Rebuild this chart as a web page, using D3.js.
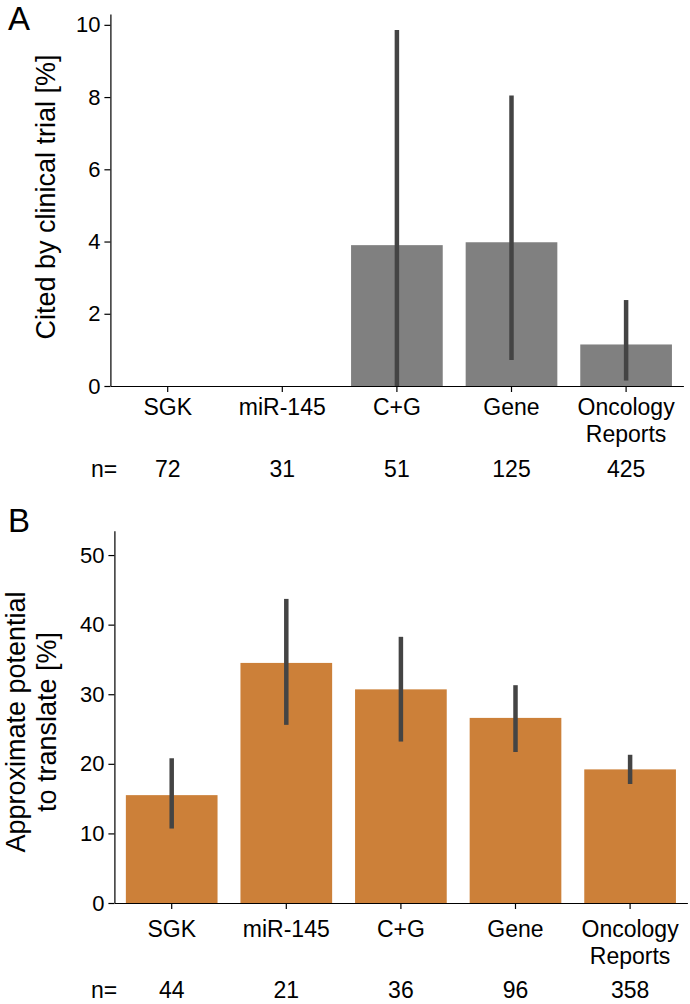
<!DOCTYPE html>
<html>
<head>
<meta charset="utf-8">
<script src="https://cdn.jsdelivr.net/npm/d3@7"></script>
<style>
  body { margin: 0; background: #fff; }
  svg { font-family: "Liberation Sans", Arial, sans-serif; }
</style>
</head>
<body>
<script>
// categories shared by both panels
var categories = ["SGK", "miR-145", "C+G", "Gene", "Oncology Reports"];

// panel A: cited by clinical trial [%]
var citedVals  = [0, 0, 3.9, 3.98, 1.15];
var citedLow   = [null, null, 0, 0.72, 0.15];
var citedHigh  = [null, null, 9.86, 8.04, 2.38];
var citedN     = [72, 31, 51, 125, 425];
var citedTicks = [0, 2, 4, 6, 8, 10];

// panel B: approximate potential to translate [%]
var potentialVals  = [15.5, 34.5, 30.7, 26.6, 19.2];
var potentialLow   = [10.7, 25.6, 23.2, 21.7, 17.1];
var potentialHigh  = [20.8, 43.7, 38.25, 31.3, 21.3];
var potentialN     = [44, 21, 36, 96, 358];
var potentialTicks = [0, 10, 20, 30, 40, 50];

var svg = d3.select("body").append("svg")
    .attr("width", 690)
    .attr("height", 1004);

function panel(p){
    var x = d3.scaleBand()
        .domain(categories)
        .range([p.left, p.right])
        .paddingInner(0.2)
        .paddingOuter(0.1);

    var y = d3.scaleLinear()
        .domain([0, p.ymax])
        .range([p.bottom, p.top]);

    var g = svg.append("g");

    // bars
    g.selectAll("rect.bar")
        .data(p.vals)
        .enter().append("rect")
        .attr("class", "bar")
        .attr("x", function(d, i){ return x(categories[i]); })
        .attr("width", x.bandwidth())
        .attr("y", function(d){ return y(d); })
        .attr("height", function(d){ return y(0) - y(d); })
        .attr("fill", p.color);

    // error bars
    g.selectAll("line.err")
        .data(p.vals.map(function(d, i){ return i; }).filter(function(i){ return p.low[i] != null; }))
        .enter().append("line")
        .attr("class", "err")
        .attr("x1", function(i){ return x(categories[i]) + x.bandwidth() / 2; })
        .attr("x2", function(i){ return x(categories[i]) + x.bandwidth() / 2; })
        .attr("y1", function(i){ return y(p.low[i]); })
        .attr("y2", function(i){ return y(p.high[i]); })
        .attr("stroke", "#444444")
        .attr("stroke-width", 4.5);

    // y axis
    var ya = g.append("g")
        .attr("transform", "translate(" + p.left + ",0)")
        .call(d3.axisLeft(y).tickValues(p.ticks).tickSize(6).tickSizeOuter(0).tickPadding(4));
    ya.selectAll("text").style("font-size", "22px").attr("fill", "#000");
    ya.selectAll("line, path").attr("stroke", "#000").attr("stroke-width", 1.2);

    // x axis
    var xa = g.append("g")
        .attr("transform", "translate(0," + p.bottom + ")")
        .call(d3.axisBottom(x).tickSize(6).tickSizeOuter(0));
    xa.selectAll("text").remove();
    xa.selectAll("line, path").attr("stroke", "#000").attr("stroke-width", 1.2);

    // category labels (two lines for the long one)
    var lab = g.selectAll("text.cat")
        .data(categories)
        .enter().append("text")
        .attr("class", "cat")
        .attr("text-anchor", "middle")
        .style("font-size", "23px")
        .attr("y", p.labelY);
    lab.selectAll("tspan")
        .data(function(d){ return d.split(" ").map(function(w){ return {w: w, c: d}; }); })
        .enter().append("tspan")
        .attr("x", function(d){ return x(d.c) + x.bandwidth() / 2; })
        .attr("dy", function(d, i){ return i == 0 ? 0 : p.lineGap; })
        .text(function(d){ return d.w; });

    // n= row
    g.append("text")
        .attr("x", 104)
        .attr("y", p.nY)
        .attr("text-anchor", "middle")
        .style("font-size", "23px")
        .text("n=");
    g.selectAll("text.n")
        .data(p.n)
        .enter().append("text")
        .attr("class", "n")
        .attr("x", function(d, i){ return x(categories[i]) + x.bandwidth() / 2; })
        .attr("y", p.nY)
        .attr("text-anchor", "middle")
        .style("font-size", "23px")
        .text(function(d){ return d; });

    // y title
    var t = g.append("text")
        .attr("transform", "translate(" + p.titleX + "," + p.titleY + ") rotate(-90)")
        .attr("text-anchor", "middle")
        .style("font-size", "27px");
    t.selectAll("tspan")
        .data(p.title)
        .enter().append("tspan")
        .attr("x", 0)
        .attr("dy", function(d, i){ return i == 0 ? 0 : 31; })
        .text(function(d){ return d; });

    // panel letter
    g.append("text")
        .attr("x", 8)
        .attr("y", p.letterY)
        .style("font-size", "33px")
        .text(p.letter);
}

panel({
    vals: citedVals, low: citedLow, high: citedHigh, n: citedN, ticks: citedTicks,
    ymax: 10.3, left: 110.4, right: 683.4, top: 14, bottom: 386,
    color: "#808080",
    labelY: 415, lineGap: 27, nY: 477,
    title: ["Cited by clinical trial [%]"], titleX: 55, titleY: 197,
    letter: "A", letterY: 30
});

panel({
    vals: potentialVals, low: potentialLow, high: potentialHigh, n: potentialN, ticks: potentialTicks,
    ymax: 53.5, left: 114.4, right: 687.4, top: 530.7, bottom: 903,
    color: "#cc8039",
    labelY: 937, lineGap: 26.5, nY: 998,
    title: ["Approximate potential", "to translate [%]"], titleX: 25, titleY: 722,
    letter: "B", letterY: 532
});
</script>
</body>
</html>
